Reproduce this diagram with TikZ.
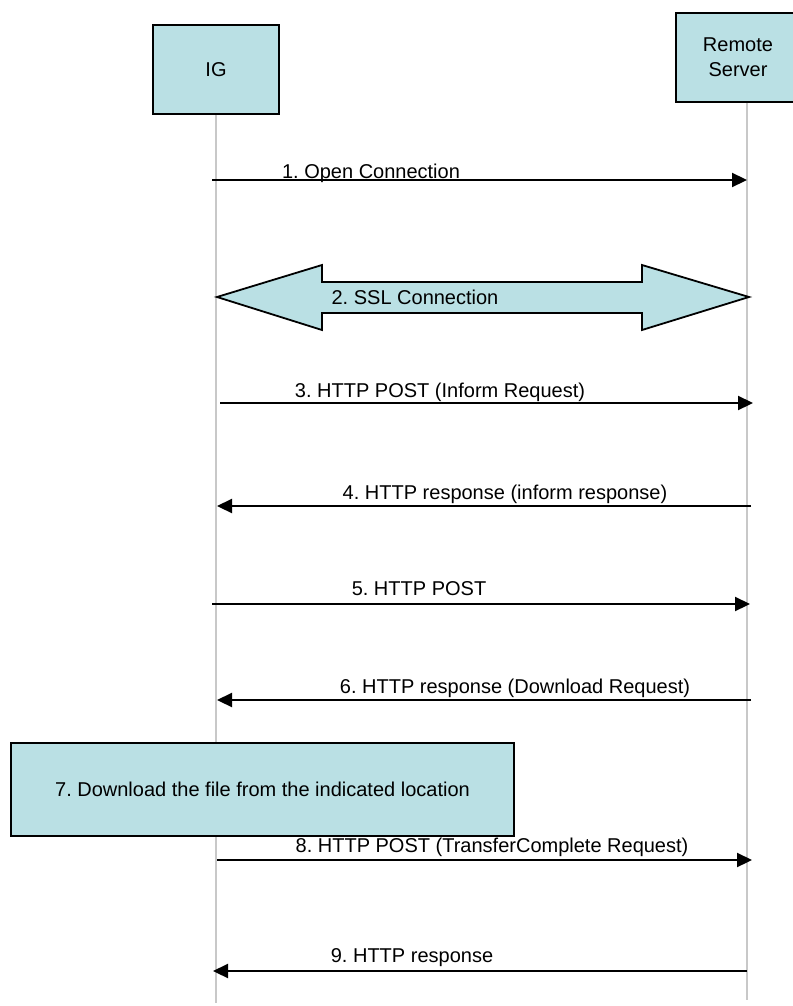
\documentclass[tikz,border=0pt]{standalone}
\usepackage{fontspec}
\setmainfont{Liberation Sans}
\usetikzlibrary{arrows.meta}
\definecolor{boxfill}{RGB}{186,224,228}
\definecolor{lifegray}{RGB}{200,200,200}
\frenchspacing
\begin{document}
\begin{tikzpicture}[x=1pt,y=-1pt,
  font=\fontsize{20}{25}\selectfont,
  box/.style={draw,fill=boxfill,line width=2pt,inner sep=0pt},
  life/.style={draw=lifegray,line width=2pt},
  msg/.style={line width=2.2pt,-{Triangle[length=15pt,width=14pt]}},
  lbl/.style={anchor=base,inner sep=0pt}]
\useasboundingbox (0,0) rectangle (792,1006);
\node (ig) at (216,69.5) [box,minimum width=126pt,minimum height=89pt] {IG};
\node (rs) at (738,57.5) [box,minimum width=124pt,minimum height=89pt,align=center] {Remote\\Server};
\coordinate (igend) at (216,1003);
\coordinate (rsend) at (747,1000);

\draw[life] (ig.south) to (igend);
\draw[life] (rs.south -| rsend) to (rsend);

\filldraw[fill=boxfill,line width=1.8pt,line join=miter]
  (217,297) -- (322,265) -- (322,282) -- (642,282) -- (642,265) -- (749,297)
  -- (642,330) -- (642,313) -- (322,313) -- (322,330) -- cycle;
\node (l2) at (415,297) {2. SSL Connection};

\node (dl) at (262.5,789.5) [box,minimum width=503pt,minimum height=93pt] {7. Download the file from the indicated location};

\coordinate (ig1) at (212,180); \coordinate (rs1) at (747,180);
\coordinate (ig3) at (220,403); \coordinate (rs3) at (753,403);
\coordinate (ig4) at (217,506); \coordinate (rs4) at (751,506);
\coordinate (ig5) at (212,604); \coordinate (rs5) at (750,604);
\coordinate (ig6) at (217,700); \coordinate (rs6) at (751,700);
\coordinate (ig8) at (217,860); \coordinate (rs8) at (752,860);
\coordinate (ig9) at (213,971); \coordinate (rs9) at (747,971);

\node (l1) at (371,178) [lbl] {1. Open Connection};
\node (l3) at (440,397) [lbl] {3. HTTP POST (Inform Request)};
\node (l4) at (505,499) [lbl] {4. HTTP response (inform response)};
\node (l5) at (419,595) [lbl] {5. HTTP POST};
\node (l6) at (515,693) [lbl] {6. HTTP response (Download Request)};
\node (l8) at (492,852) [lbl] {8. HTTP POST (TransferComplete Request)};
\node (l9) at (412,962) [lbl] {9. HTTP response};

\draw[msg]
(ig1) to (rs1);
\draw[msg] (ig3) to (rs3);
\draw[msg] (rs4) to (ig4);
\draw[msg] (ig5) to (rs5);
\draw[msg] (rs6) to (ig6);
\draw[msg] (ig8) to (rs8);
\draw[msg] (rs9) to (ig9);
\end{tikzpicture}
\end{document}
